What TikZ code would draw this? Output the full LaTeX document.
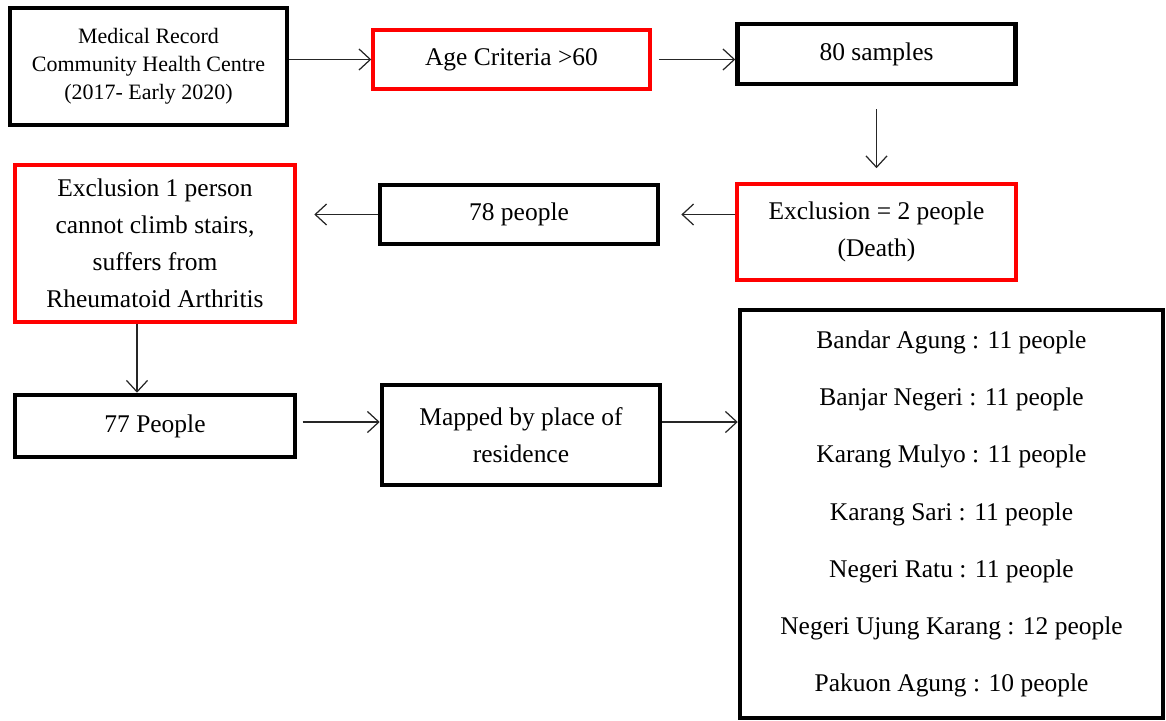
\documentclass[tikz,border=0pt]{standalone}
\usepackage{fontspec}
\setmainfont{Liberation Serif}
\usetikzlibrary{arrows.meta}

\tikzset{
  blackbox/.style={draw=black,line width=2.6pt,align=center,inner sep=0pt,font=\fontsize{14.5}{21}\selectfont},
  redbox/.style={draw=red,line width=2pt,align=center,inner sep=0pt,font=\fontsize{14.5}{21}\selectfont},
  flow/.style={-{Straight Barb[length=6.5pt,width=12pt]},line width=0.7pt,draw=black!85}
}

\begin{document}
\begin{tikzpicture}[x=0.02cm,y=-0.02cm]
\useasboundingbox (0,0) rectangle (1166,720);
% top row
\node[blackbox,minimum width=5.54cm,minimum height=2.34cm,font=\fontsize{12.5}{16}\selectfont] (med) at (148.5,66.5) {Medical Record\\Community Health Centre\\(2017- Early 2020)};
\node[redbox,minimum width=5.54cm,minimum height=1.18cm] (age) at (511.5,59.5) {Age Criteria >60};
\node[blackbox,minimum width=5.56cm,minimum height=1.2cm] (s80) at (876.5,54) {80 samples};
% middle row
\node[redbox,minimum width=5.58cm,minimum height=1.92cm] (excl2) at (876.5,232) {Exclusion = 2 people\\(Death)};
\node[blackbox,minimum width=5.56cm,minimum height=1.18cm] (p78) at (519,214.5) {78 people};
\node[redbox,minimum width=5.6cm,minimum height=3.14cm] (excl1) at (155,243.5) {Exclusion 1 person\\cannot climb stairs,\\suffers from\\Rheumatoid Arthritis};
% bottom row
\node[blackbox,minimum width=5.6cm,minimum height=1.24cm] (p77) at (155,426) {77 People};
\node[blackbox,minimum width=5.56cm,minimum height=2cm] (mapped) at (521,435) {Mapped by place of\\residence};
\node[blackbox,minimum width=8.46cm,minimum height=8.16cm,font=\fontsize{14.5}{32.6}\selectfont] (list) at (951.5,514) {Bandar Agung : 11 people\\Banjar Negeri : 11 people\\Karang Mulyo : 11 people\\Karang Sari : 11 people\\Negeri Ratu : 11 people\\Negeri Ujung Karang : 12 people\\Pakuon Agung : 10 people};
% arrows
\draw[flow] (med.east |- age.west) -- (age.west);
\draw[flow,shorten <=4] (age.east) -- (s80.west |- age.east);
\draw[flow,shorten <=13,shorten >=8] (s80.south) -- (excl2.north);
\draw[flow,shorten >=12] (excl2.west |- p78.east) -- (p78.east);
\draw[flow,shorten >=10] (p78.west) -- (excl1.east |- p78.west);
\draw[flow] ([xshift=-0.36cm]excl1.south) -- ([xshift=-0.36cm]excl1.south |- p77.north);
\draw[flow,shorten <=3] ([yshift=0.08cm]p77.east) -- ([yshift=0.08cm]mapped.west |- p77.east);
\draw[flow] ([yshift=0.26cm]mapped.east) -- ([yshift=0.26cm]list.west |- mapped.east);
\end{tikzpicture}
\end{document}
